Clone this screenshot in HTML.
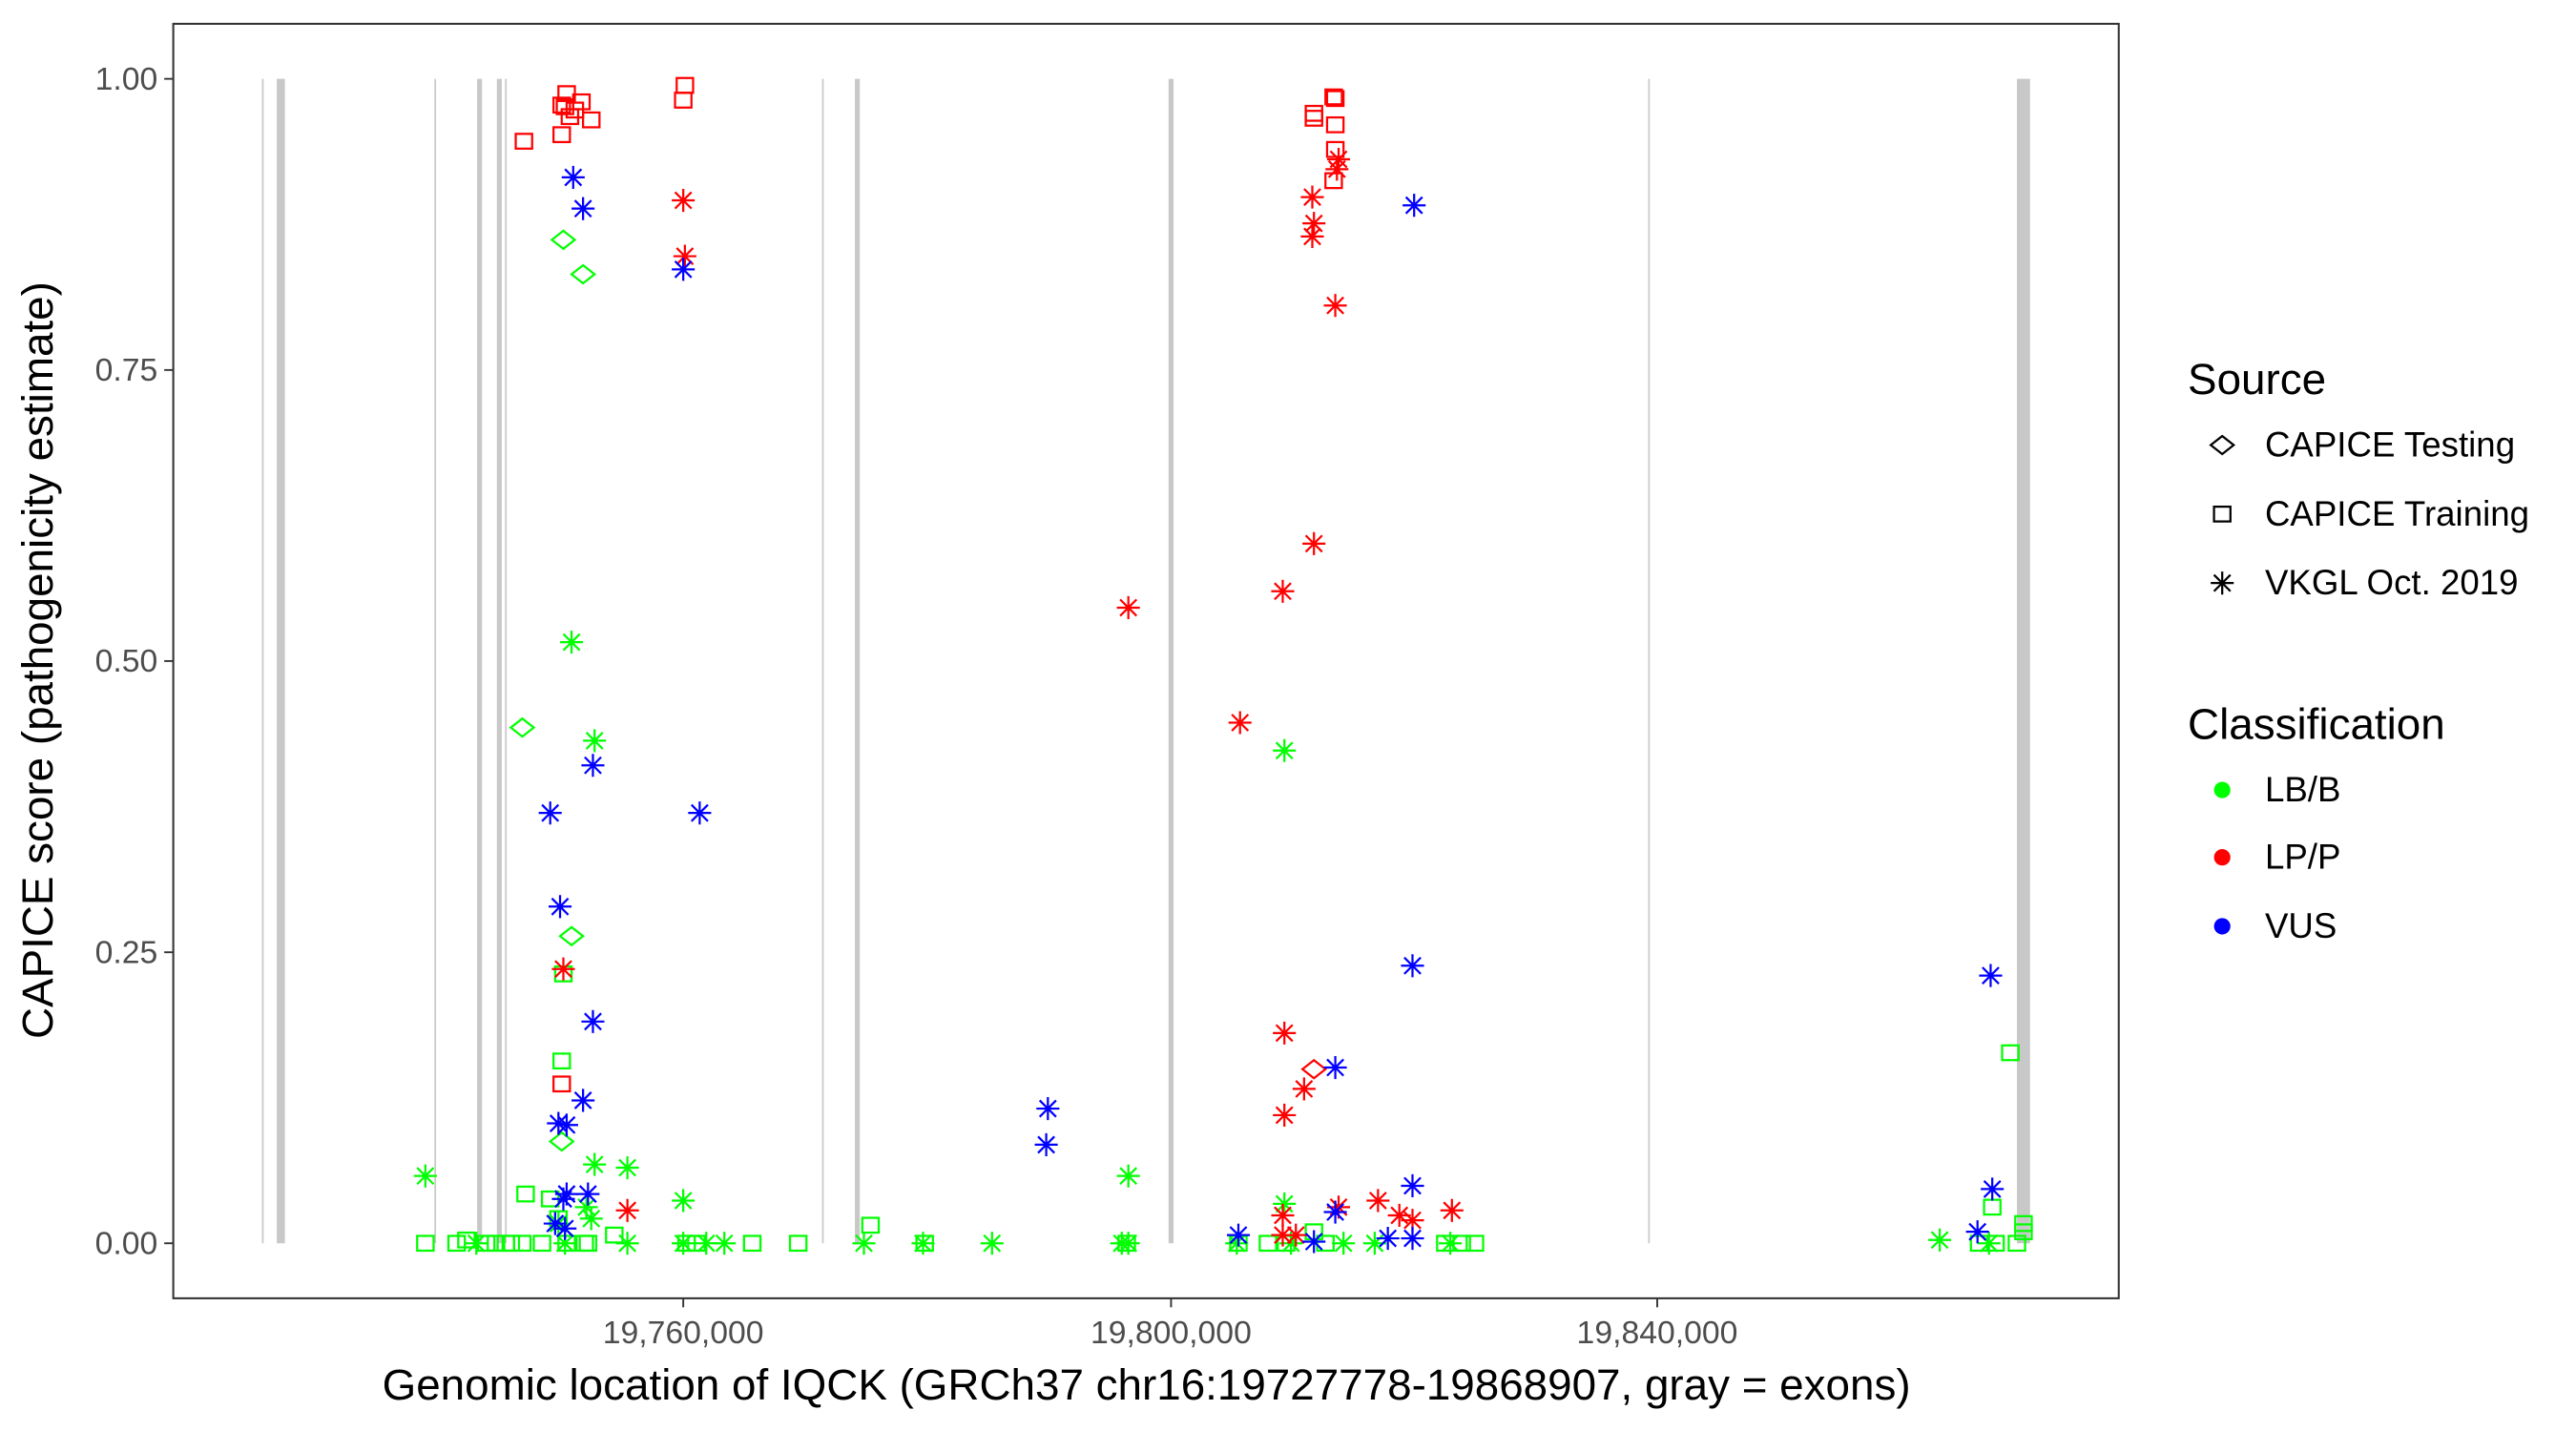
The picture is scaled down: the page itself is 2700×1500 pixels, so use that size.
<!DOCTYPE html>
<html><head><meta charset="utf-8"><style>
html,body{margin:0;padding:0;background:#fff}
svg{display:block}
text{font-family:"Liberation Sans",Arial,sans-serif}
</style></head><body>
<svg id="s" xmlns="http://www.w3.org/2000/svg" width="2700" height="1500" viewBox="0 0 1568.4 871.3" preserveAspectRatio="none">
<rect x="0" y="0" width="1570" height="875" fill="#fff"/>
<g id="ex" fill="#c8c8c8"></g>
<g id="pts" fill="none" stroke-width="1.3"></g>
<rect x="105.5" y="14.5" width="1184.5" height="776" fill="none" stroke="#333" stroke-width="1.2"/>
<g stroke="#333" stroke-width="1.1">
<line x1="100" x2="105.5" y1="48" y2="48"/><line x1="100" x2="105.5" y1="225.3" y2="225.3"/>
<line x1="100" x2="105.5" y1="402.5" y2="402.5"/><line x1="100" x2="105.5" y1="579.8" y2="579.8"/>
<line x1="100" x2="105.5" y1="757" y2="757"/>
<line x1="416" x2="416" y1="790.5" y2="796"/><line x1="713" x2="713" y1="790.5" y2="796"/><line x1="1009" x2="1009" y1="790.5" y2="796"/>
</g>
<g fill="#4d4d4d" font-size="19.6" text-anchor="end">
<text x="96" y="54.5">1.00</text><text x="96" y="231.8">0.75</text><text x="96" y="409">0.50</text>
<text x="96" y="586.3">0.25</text><text x="96" y="763.5">0.00</text>
</g>
<g fill="#4d4d4d" font-size="19.6" text-anchor="middle">
<text x="416" y="818">19,760,000</text><text x="713" y="818">19,800,000</text><text x="1009" y="818">19,840,000</text>
</g>
<text x="698" y="852" font-size="26.6" text-anchor="middle" fill="#000">Genomic location of IQCK (GRCh37 chr16:19727778-19868907, gray = exons)</text>
<text transform="translate(32,402) rotate(-90)" font-size="26.6" text-anchor="middle" fill="#000">CAPICE score (pathogenicity estimate)</text>
<text x="1332" y="240" font-size="26.6">Source</text>
<text x="1379" y="278" font-size="21.3">CAPICE Testing</text>
<text x="1379" y="320" font-size="21.3">CAPICE Training</text>
<text x="1379" y="362" font-size="21.3">VKGL Oct. 2019</text>
<text x="1332" y="450" font-size="26.6">Classification</text>
<text x="1379" y="488" font-size="21.3">LB/B</text>
<text x="1379" y="529" font-size="21.3">LP/P</text>
<text x="1379" y="571" font-size="21.3">VUS</text>
<circle cx="1353" cy="481" r="5" fill="#0f0"/>
<circle cx="1353" cy="522" r="5" fill="#f00"/>
<circle cx="1353" cy="564" r="5" fill="#00f"/>
<g id="lg" fill="none" stroke="#000" stroke-width="1.3"></g>
</svg>
<script>
var NS="http://www.w3.org/2000/svg";
function el(p,t,a){var e=document.createElementNS(NS,t);for(var k in a)e.setAttribute(k,a[k]);p.appendChild(e);return e;}
var ex=document.getElementById('ex');
[[160,1],[171,5],[265,1],[292,3],[304,3],[308,1],[501,1],[522,3],[713,3],[1004,1],[1232,8]].forEach(function(e){
 el(ex,'rect',{x:e[0]-e[1]/2,y:48,width:e[1],height:709});});
var P=document.getElementById('pts');
function sq(g,x,y,c){el(g,'rect',{x:x-5,y:y-4.5,width:10,height:9,stroke:c});}
function di(g,x,y,c){el(g,'path',{d:'M'+(x-7)+' '+y+'L'+x+' '+(y-5.5)+'L'+(x+7)+' '+y+'L'+x+' '+(y+5.5)+'Z',stroke:c});}
function as(g,x,y,c){var r=7,d=5;
 el(g,'path',{d:'M'+(x-r)+' '+y+'H'+(x+r)+'M'+x+' '+(y-r)+'V'+(y+r)+'M'+(x-d)+' '+(y-d)+'L'+(x+d)+' '+(y+d)+'M'+(x-d)+' '+(y+d)+'L'+(x+d)+' '+(y-d),stroke:c});}
var R='#f00',B='#00f',G='#0f0';
[[319,86],[345,57],[344,65],[350,67],[347,71],[342,64],[354,62],[360,73],[342,82],[417,52],[416,61],[800,69],[800,72],[812,59],[813,60],[813,76],[813,91],[812,110],[342,660]].forEach(function(p){sq(P,p[0],p[1],R)});
[[343,593],[342,646],[530,746],[1224,641],[1213,735],[320,727],[335,730],[340,742],[374,752],[259,757],[278,757],[284,755],[296,757],[302,757],[308,757],[311,757],[318,757],[330,757],[345,757],[356,757],[358,757],[418,757],[424,757],[458,757],[486,757],[563,757],[686,757],[754,757],[772,757],[783,757],[800,750],[807,757],[880,757],[890,757],[898,757],[1205,757],[1215,757],[1228,757],[1232,750],[1232,745]].forEach(function(p){sq(P,p[0],p[1],G)});
[[343,146],[355,167],[318,443],[348,570],[342,695]].forEach(function(p){di(P,p[0],p[1],G)});
di(P,800,651,R);
[[348,391],[362,451],[259,716],[362,709],[382,711],[416,731],[687,716],[782,457],[782,733],[340,745],[357,735],[360,742],[290,757],[344,757],[382,757],[416,757],[430,757],[441,757],[526,757],[562,757],[604,757],[683,757],[687,757],[753,757],[786,757],[818,757],[837,757],[883,757],[1181,755],[1211,757]].forEach(function(p){as(P,p[0],p[1],G)});
[[416,122],[417,156],[343,590],[382,737],[687,370],[755,440],[781,360],[800,331],[799,120],[800,136],[799,144],[814,103],[815,97],[813,186],[782,629],[794,663],[782,679],[781,740],[815,735],[839,731],[852,740],[860,743],[884,737],[781,752],[789,752]].forEach(function(p){as(P,p[0],p[1],R)});
[[349,108],[355,127],[416,164],[361,466],[335,495],[426,495],[341,552],[361,622],[355,670],[340,684],[345,685],[345,727],[343,730],[358,727],[338,745],[344,748],[861,125],[860,588],[638,675],[637,697],[813,650],[860,722],[813,738],[845,754],[860,754],[800,756],[754,752],[1212,594],[1213,724],[1204,750]].forEach(function(p){as(P,p[0],p[1],B)});
var L=document.getElementById('lg');
di(L,1353,271,'#000');sq(L,1353,313,'#000');as(L,1353,355,'#000');
</script>
</body></html>
